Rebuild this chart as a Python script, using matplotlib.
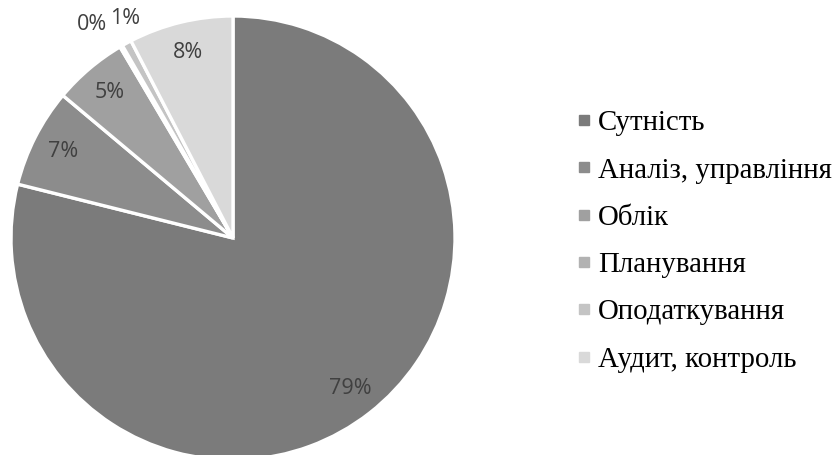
import numpy as np
import matplotlib
matplotlib.use('Agg')
from matplotlib import pyplot as plt
from matplotlib.lines import Line2D

categories = ['Сутність', 'Аналіз, управління', 'Облік', 'Планування',
              'Оподаткування', 'Аудит, контроль']
shares = [78.9, 7.2, 5.4, 0.2, 0.7, 7.6]
colours = ['#7b7b7b', '#8c8c8c', '#a0a0a0', '#b2b2b2', '#c4c4c4', '#d9d9d9']

fig = plt.figure(figsize=(8.37, 4.55), dpi=100)
ax = fig.add_axes([11 / 837, -5 / 455, 444 / 837, 444 / 455])

wedges, texts, pcts = ax.pie(
    shares, colors=colours, startangle=90, counterclock=False,
    autopct=lambda p: f'{p:.0f}%', pctdistance=0.86,
    wedgeprops=dict(edgecolor='white', linewidth=2.4),
    textprops=dict(color='#404040', fontsize=15.5, family='Open Sans'))

# tiny slices: push their labels outside and apart
nudge = {3: 3.2, 4: -2.5}
for i, w in enumerate(wedges):
    if shares[i] < 2:
        ang = np.deg2rad((w.theta1 + w.theta2) / 2 + nudge[i])
        r = 1.15 if i == 3 else 1.10
        pcts[i].set_position((r * np.cos(ang), r * np.sin(ang)))

ax.set_xlim(-1, 1)
ax.set_ylim(-1, 1)
ax.axis('off')

handles = [Line2D([], [], marker='s', linestyle='none', markersize=6.5,
                  markerfacecolor=c, markeredgecolor=c) for c in colours]
fig.legend(handles, categories, loc='upper left', bbox_to_anchor=(577 / 837, 1 - 110 / 455),
           frameon=False, borderpad=0, borderaxespad=0,
           handlelength=0.5, handletextpad=0.22, labelspacing=0.73,
           prop=dict(family='Liberation Serif', size=20.8))

plt.savefig('out.png', dpi=100)
